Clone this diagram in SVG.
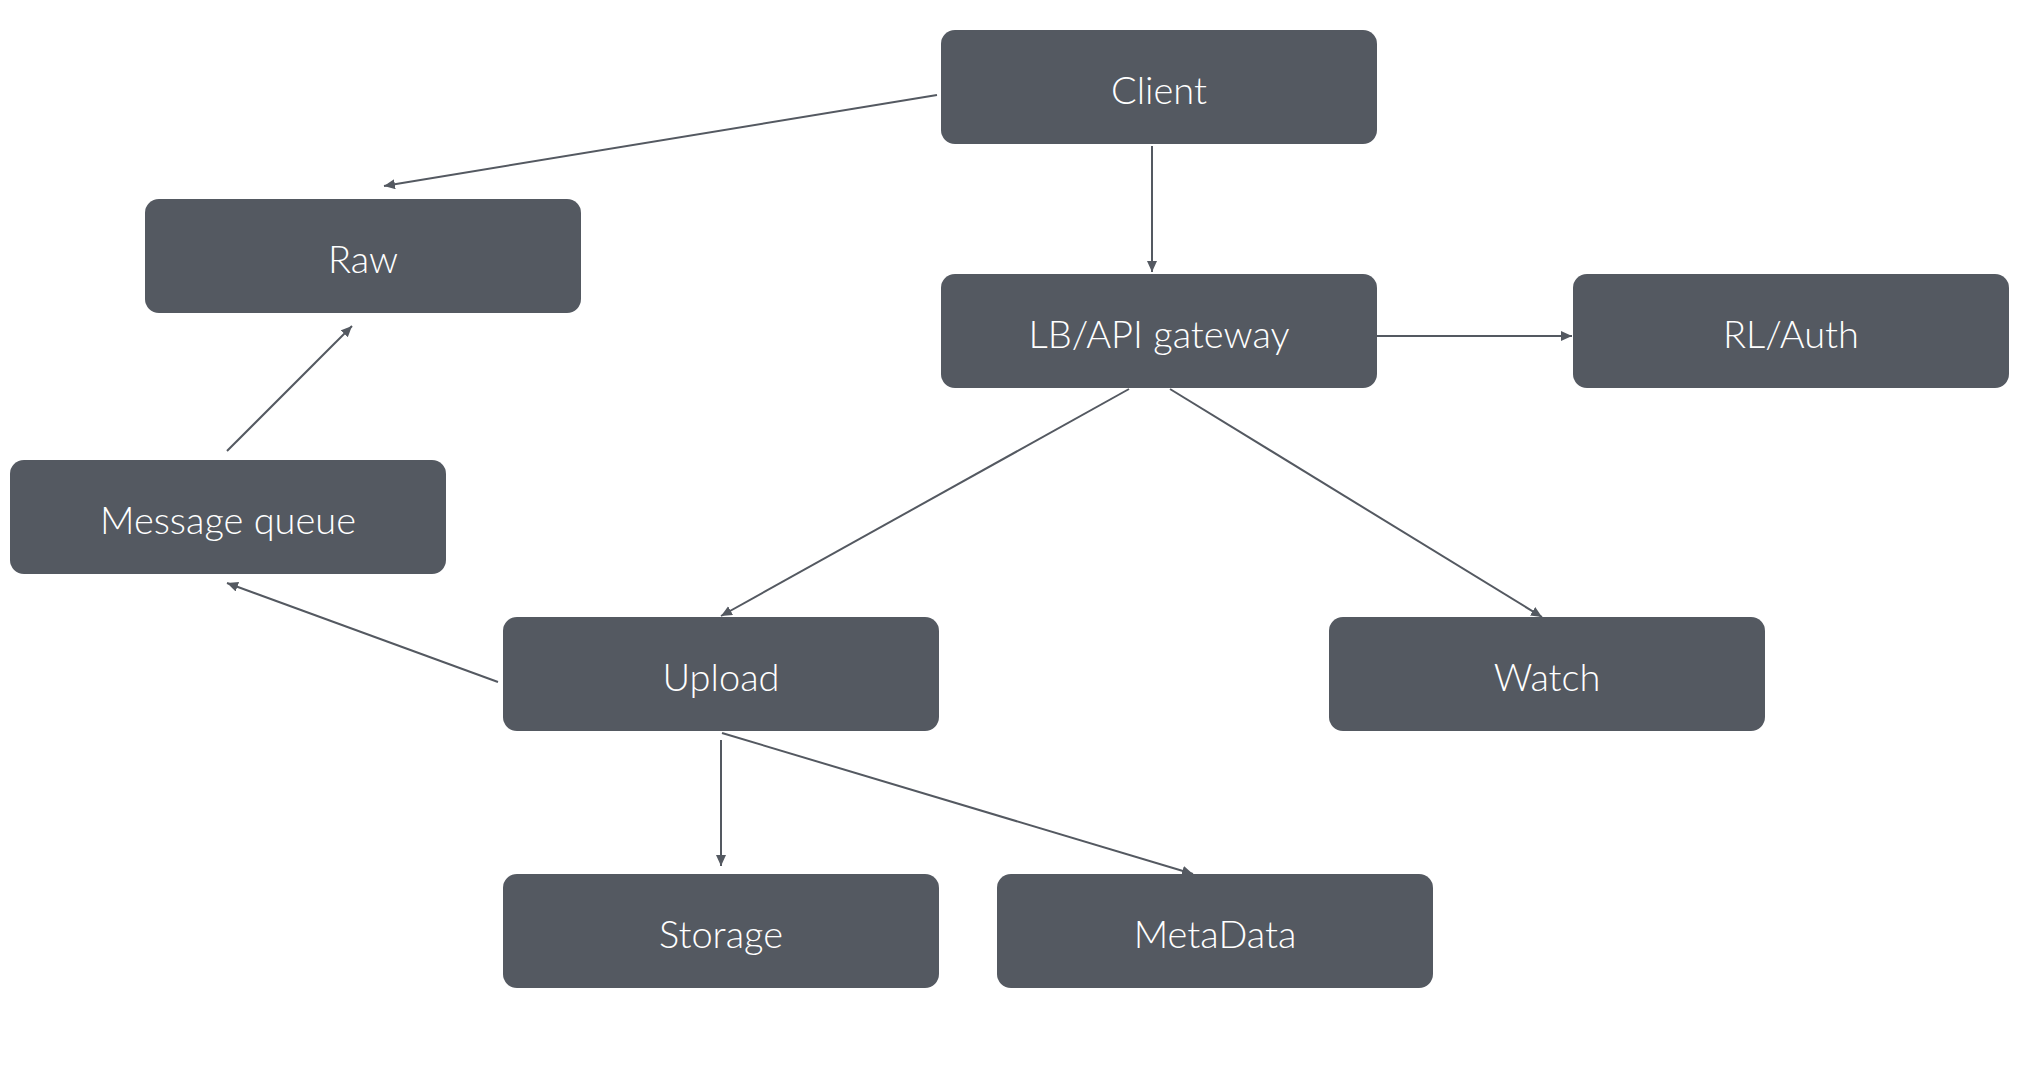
<svg xmlns="http://www.w3.org/2000/svg" width="2032" height="1070" viewBox="0 0 2032 1070">
<defs>
<style>
.box{fill:#545961;}
.lbl{fill:#ffffff;font-family:Lato,"Liberation Sans",sans-serif;font-weight:300;font-size:38px;text-anchor:middle;}
.edge{stroke:#545961;stroke-width:2;fill:none;marker-end:url(#arr);}
</style>
<marker id="arr" markerUnits="userSpaceOnUse" markerWidth="12" markerHeight="11" refX="11" refY="5" orient="auto">
<path d="M0,0 L11,5 L0,10 z" fill="#545961"/>
</marker>
</defs>
<rect width="2032" height="1070" fill="#ffffff"/>
<g id="connectors">
<line class="edge" x1="937" y1="95" x2="384" y2="186"/>
<line class="edge" x1="1152" y1="146" x2="1152" y2="272"/>
<line class="edge" x1="1377" y1="336" x2="1572" y2="336"/>
<line class="edge" x1="1129" y1="389" x2="721" y2="616"/>
<line class="edge" x1="1170" y1="389" x2="1542" y2="617"/>
<line class="edge" x1="227" y1="451" x2="352" y2="326"/>
<line class="edge" x1="498" y1="682" x2="227" y2="583"/>
<line class="edge" x1="721" y1="740" x2="721" y2="866"/>
<line class="edge" x1="722" y1="733" x2="1193" y2="874"/>
</g>
<g id="client"><rect class="box" x="941" y="30" width="436" height="114" rx="14"/><text class="lbl" x="1159" y="104">Client</text></g>
<g id="raw"><rect class="box" x="145" y="199" width="436" height="114" rx="14"/><text class="lbl" x="363" y="273">Raw</text></g>
<g id="lb"><rect class="box" x="941" y="274" width="436" height="114" rx="14"/><text class="lbl" x="1159" y="348">LB/API gateway</text></g>
<g id="rlauth"><rect class="box" x="1573" y="274" width="436" height="114" rx="14"/><text class="lbl" x="1791" y="348">RL/Auth</text></g>
<g id="mq"><rect class="box" x="10" y="460" width="436" height="114" rx="14"/><text class="lbl" x="228" y="534">Message queue</text></g>
<g id="upload"><rect class="box" x="503" y="617" width="436" height="114" rx="14"/><text class="lbl" x="721" y="691">Upload</text></g>
<g id="watch"><rect class="box" x="1329" y="617" width="436" height="114" rx="14"/><text class="lbl" x="1547" y="691">Watch</text></g>
<g id="storage"><rect class="box" x="503" y="874" width="436" height="114" rx="14"/><text class="lbl" x="721" y="948">Storage</text></g>
<g id="metadata"><rect class="box" x="997" y="874" width="436" height="114" rx="14"/><text class="lbl" x="1215" y="948">MetaData</text></g>
</svg>
